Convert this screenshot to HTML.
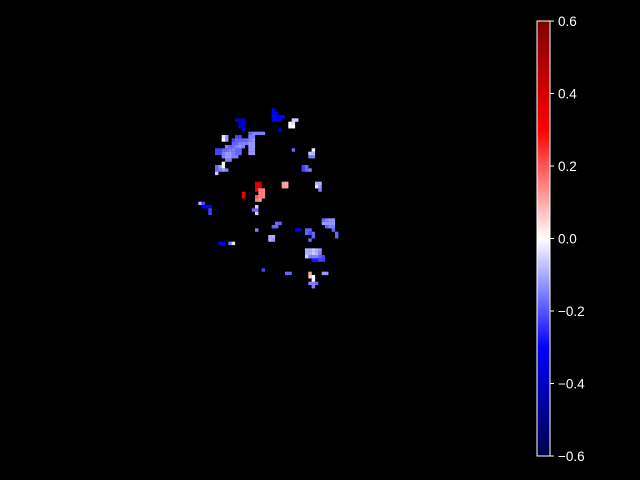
<!DOCTYPE html>
<html><head><meta charset="utf-8"><style>
html,body{margin:0;padding:0;background:#000;}
svg{display:block;}
text{font-family:"Liberation Sans",sans-serif;font-size:13.5px;fill:#fff;}
</style></head><body>
<svg id="chart" width="640" height="480">
<rect width="640" height="480" fill="#000"/>
<g id="cells"></g>
<defs><linearGradient id="cg" x1="0" y1="1" x2="0" y2="0">
<stop offset="0" stop-color="#00004d"/><stop offset="0.25" stop-color="#0000ff"/>
<stop offset="0.5" stop-color="#ffffff"/><stop offset="0.75" stop-color="#ff0000"/>
<stop offset="1" stop-color="#800000"/></linearGradient></defs>
<rect x="537" y="21" width="13" height="435" fill="url(#cg)" stroke="#fff" stroke-width="1"/>
<g id="ticks"></g>
</svg>
<script>
const tickValues=[0.6,0.4,0.2,0.0,-0.2,-0.4,-0.6];
const tickLabels=["0.6","0.4","0.2","0.0","\u22120.2","\u22120.4","\u22120.6"];
const cellCols=[23,23,24,23,24,25,26,23,24,25,25,29,30,28,29,28,29,12,13,14,13,14,13,14,14,
16,17,18,19,20,8,9,12,13,16,17,8,9,11,12,13,14,15,16,17,11,12,13,14,15,16,17,9,10,11,12,13,14,16,17,
6,7,8,9,10,11,12,13,16,17,29,35,6,7,8,9,10,11,12,13,16,17,34,35,8,9,10,11,12,34,35,9,10,8,6,7,8,32,33,
6,7,8,9,32,33,34,6,18,19,18,19,18,19,26,27,26,27,14,19,20,19,20,19,20,36,37,36,37,37,
1,2,2,3,4,4,4,14,18,19,20,18,19,17,18,18,18,24,25,23,24,18,30,31,33,34,33,34,35,35,34,
38,39,40,41,38,39,40,41,39,40,41,41,42,42,22,23,22,23,7,8,10,11,
33,34,35,36,37,33,34,35,36,37,33,34,35,36,37,38,35,36,37,38,20,27,28,38,39,34,34,35,35,35,34,35,36,35];
const cellRows=[1,2,2,3,3,3,3,4,4,4,7,4,4,5,5,6,6,4,4,4,5,5,6,6,7,
8,8,8,8,8,9,9,9,9,9,9,10,10,10,10,10,10,10,10,10,11,11,11,11,11,11,11,12,12,12,12,12,12,12,12,
13,13,13,13,13,13,13,13,13,13,13,13,14,14,14,14,14,14,14,14,14,14,14,14,15,15,15,15,15,15,15,16,16,17,18,18,18,18,18,
19,19,19,19,19,19,19,20,23,23,24,24,25,25,23,23,24,24,26,25,25,26,26,27,27,23,23,24,24,25,
29,29,30,30,30,31,32,27,27,27,27,28,28,31,31,30,32,35,35,36,36,37,37,37,37,37,38,38,38,39,40,
34,34,34,34,35,35,35,35,36,36,36,37,38,39,39,39,40,40,41,41,41,41,
43,43,43,43,43,44,44,44,44,44,45,45,45,45,45,45,46,46,46,46,49,50,50,50,50,50,51,51,52,53,53,53,53,54];
const cellValues=[-0.3,-0.3,-0.3,-0.3,-0.3,-0.3,-0.3,-0.3,-0.3,-0.3,-0.3,-0.06,-0.06,0,-0.03,0,0,-0.4,-0.4,-0.4,-0.4,-0.4,-0.4,-0.4,-0.35,
-0.18,-0.15,-0.15,-0.15,-0.15,-0.03,-0.12,-0.22,-0.22,-0.15,-0.15,0,-0.12,-0.22,-0.18,-0.18,-0.18,-0.18,-0.15,-0.12,-0.18,-0.18,-0.15,-0.15,-0.15,-0.12,-0.12,-0.15,-0.18,-0.18,-0.15,-0.12,-0.15,-0.12,-0.12,
-0.22,-0.22,-0.18,-0.18,-0.15,-0.15,-0.18,-0.18,-0.12,-0.12,-0.18,0,-0.22,-0.22,-0.15,-0.12,-0.12,-0.15,-0.18,-0.18,-0.12,-0.12,-0.06,-0.09,-0.15,-0.12,-0.12,-0.15,-0.15,-0.15,-0.15,-0.15,-0.15,0,-0.18,-0.12,0,-0.22,-0.18,
-0.18,-0.15,-0.12,-0.15,-0.22,-0.18,-0.15,-0.06,0.4,0.4,0.4,0.4,0.3,0.3,0.12,0.1,0.12,0.1,0.3,0.15,0.15,0.15,0.15,0.15,0.15,-0.09,-0.09,-0.03,-0.12,-0.15,
-0.09,-0.22,-0.3,-0.3,-0.3,-0.22,-0.22,0.35,0.2,0.15,0.15,0.15,0.12,-0.18,-0.18,-0.06,-0.06,-0.18,-0.18,-0.18,-0.18,-0.15,-0.3,-0.3,-0.18,-0.18,-0.18,-0.22,-0.18,-0.18,-0.18,
-0.18,-0.15,-0.12,-0.12,-0.12,-0.12,-0.12,-0.12,-0.18,-0.15,-0.15,-0.18,-0.18,-0.18,-0.09,-0.09,-0.09,-0.12,-0.3,-0.3,-0.15,-0.03,
-0.09,-0.09,-0.06,-0.09,-0.12,-0.09,-0.09,-0.06,-0.09,-0.15,-0.06,-0.15,-0.15,-0.15,-0.18,-0.22,-0.27,-0.27,-0.22,-0.22,-0.22,-0.18,-0.18,-0.12,-0.12,0.1,0.06,0,0,-0.03,-0.15,-0.15,-0.18,-0.15];
const vmin=-0.6,vmax=0.6;
const s=10/3, x0=195, y0=105;
const xScale=c=>x0+c*s, yScale=r=>y0+r*s;
const cbY=v=>21+(vmax-v)/(vmax-vmin)*435;
function seismic(v){
  let t=(v-vmin)/(vmax-vmin); t=Math.max(0,Math.min(1,t));
  const st=[[0,0,0,77],[0.25,0,0,255],[0.5,255,255,255],[0.75,255,0,0],[1,128,0,0]];
  for(let i=0;i<4;i++){const a=st[i],b=st[i+1];
    if(t<=b[0]){const f=(t-a[0])/(b[0]-a[0]);
      return `rgb(${Math.round(a[1]+f*(b[1]-a[1]))},${Math.round(a[2]+f*(b[2]-a[2]))},${Math.round(a[3]+f*(b[3]-a[3]))})`;}}
  return 'rgb(128,0,0)';
}
const NS='http://www.w3.org/2000/svg';
const g=document.getElementById('cells');
for(let i=0;i<cellValues.length;i++){
  const r=document.createElementNS(NS,'rect');
  r.setAttribute('x',xScale(cellCols[i]).toFixed(2));
  r.setAttribute('y',yScale(cellRows[i]).toFixed(2));
  r.setAttribute('width',(s+0.1).toFixed(2));
  r.setAttribute('height',(s+0.1).toFixed(2));
  r.setAttribute('fill',seismic(cellValues[i]));
  
  
  g.appendChild(r);
}
const tg=document.getElementById('ticks');
for(let i=0;i<tickValues.length;i++){
  const y=cbY(tickValues[i]);
  const l=document.createElementNS(NS,'line');
  l.setAttribute('x1',550);l.setAttribute('x2',554);l.setAttribute('y1',y);l.setAttribute('y2',y);
  l.setAttribute('stroke','#fff');
  
  
  tg.appendChild(l);
  const t=document.createElementNS(NS,'text');
  t.setAttribute('x',558);t.setAttribute('y',y+5);
  t.textContent=tickLabels[i];
  
  
  tg.appendChild(t);
}
</script>
</body></html>
